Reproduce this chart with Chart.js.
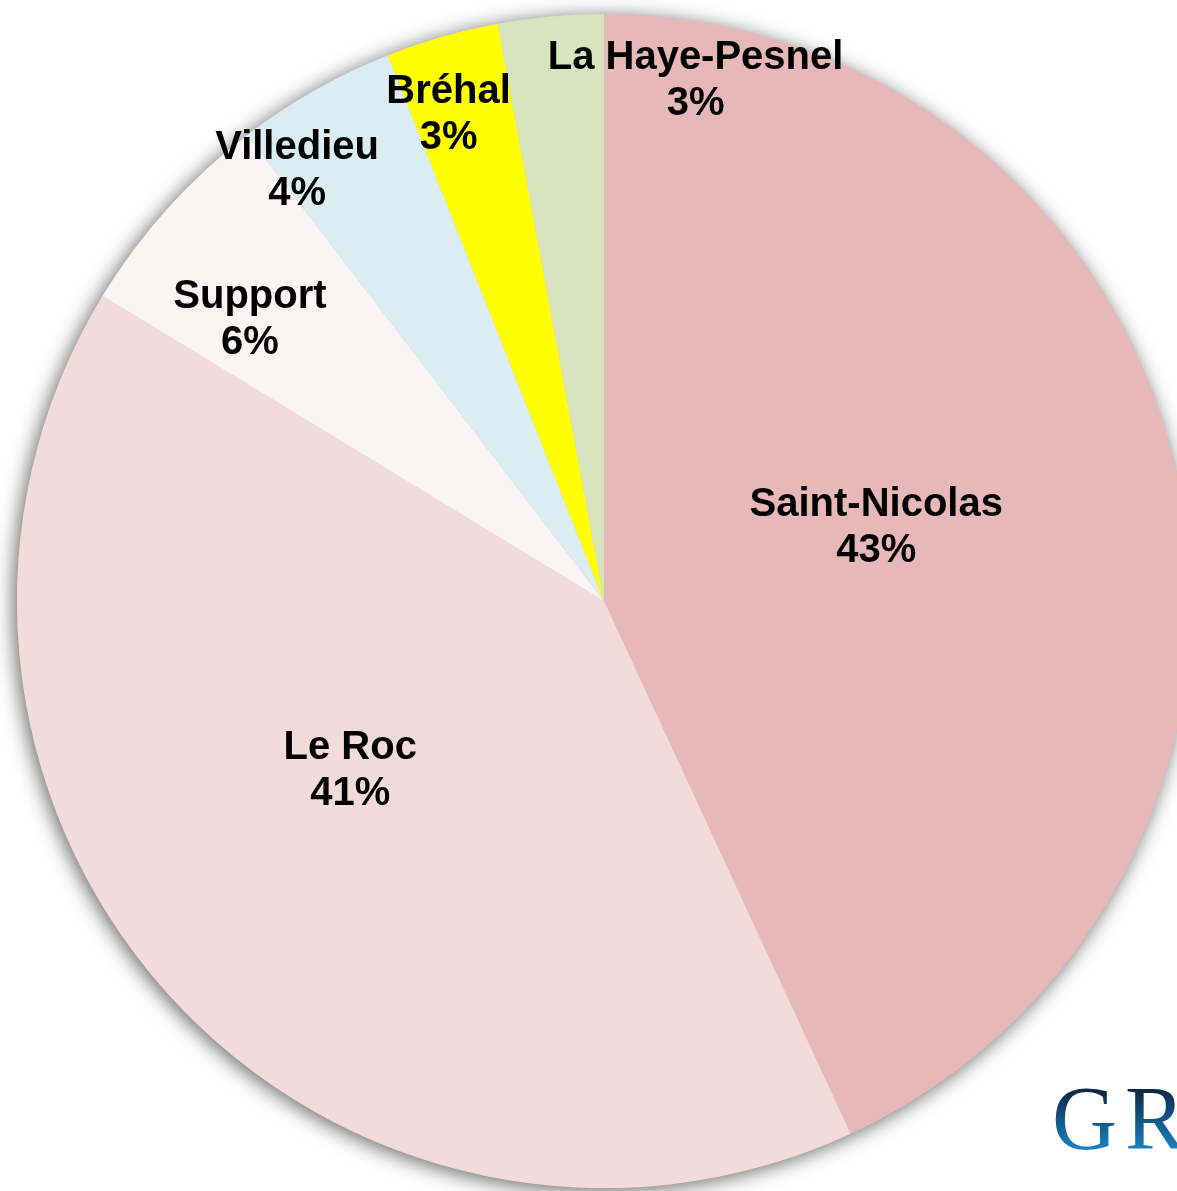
<!DOCTYPE html>
<html>
<head>
<meta charset="utf-8">
<script src="https://cdn.jsdelivr.net/npm/chart.js@4.4.1/dist/chart.umd.min.js"></script>
<style>
  html, body { margin: 0; padding: 0; background: #fff; overflow: hidden; }
  #wrap { position: relative; width: 1177px; height: 1191px; overflow: hidden; }
  #pie { position: absolute; left: 0; top: 0; }
  #logo {
    position: absolute; left: 1052px; top: 1067px;
    font-family: "Liberation Serif", serif; font-size: 90px; letter-spacing: 8px;
    background: linear-gradient(#0b2540 20%, #1b8ad0 85%);
    -webkit-background-clip: text; background-clip: text; color: transparent;
    white-space: nowrap;
  }
</style>
</head>
<body>
<div id="wrap">
  <canvas id="pie" width="1208" height="1191"></canvas>
  <div id="logo">GR</div>
</div>
<script>
const sites = ['Saint-Nicolas', 'Le Roc', 'Support', 'Villedieu', 'Bréhal', 'La Haye-Pesnel']
const parts = [43.1, 40.6, 5.9, 4.4, 3.1, 2.9]
const couleurs = ['#E6B8B7', '#F2DCDB', '#FAF4F4', '#DAEDF3', '#FFFF00', '#D7E4BD']

// nudges so labels sit where the original "best fit" put them
const placeLabels = { 0: [0.48, -2.5], 1: [0.52, 8], 2: [0.77, -3.5], 3: [0.9, -6], 4: [0.87, -1.7], 5: [0.9, 15.2] }

const ombre = {
  id: 'ombre',
  beforeDatasetsDraw(chart) {
    const arc = chart.getDatasetMeta(0).data[0]
    if (!arc) return
    const ctx = chart.ctx
    ctx.save()
    ctx.shadowColor = 'rgba(0,0,0,0.6)'
    ctx.shadowBlur = 20
    ctx.shadowOffsetX = -3
    ctx.shadowOffsetY = 3
    ctx.fillStyle = '#E6B8B7'
    ctx.beginPath()
    ctx.arc(arc.x, arc.y, arc.outerRadius, 0, Math.PI * 2)
    ctx.fill()
    ctx.restore()
  }
}

const etiquettes = {
  id: 'etiquettes',
  afterDatasetsDraw(chart) {
    const ctx = chart.ctx
    const total = parts.reduce((a, b) => a + b, 0)
    ctx.save()
    ctx.font = 'bold 40px "Liberation Sans", Arial, sans-serif'
    ctx.fillStyle = '#000'
    ctx.textAlign = 'center'
    ctx.textBaseline = 'middle'
    chart.getDatasetMeta(0).data.forEach((arc, i) => {
      const [f, da] = placeLabels[i]
      const a = (arc.startAngle + arc.endAngle) / 2 + da * Math.PI / 180
      const r = arc.outerRadius * f
      const x = arc.x + r * Math.cos(a)
      const y = arc.y + r * Math.sin(a)
      const pct = Math.round(parts[i] / total * 100) + '%'
      ctx.fillText(sites[i], x, y - 23)
      ctx.fillText(pct, x, y + 23)
    })
    ctx.restore()
  }
}

new Chart(document.getElementById('pie').getContext('2d'), {
  type: 'pie',
  data: {
    labels: sites,
    datasets: [{
      data: parts,
      backgroundColor: couleurs,
      borderWidth: 0
    }]
  },
  options: {
    responsive: false,
    animation: false,
    layout: { padding: { left: 17, right: 17, top: 14, bottom: 3 } },
    plugins: { legend: { display: false }, tooltip: { enabled: false } }
  },
  plugins: [ombre, etiquettes]
})
</script>
</body>
</html>
